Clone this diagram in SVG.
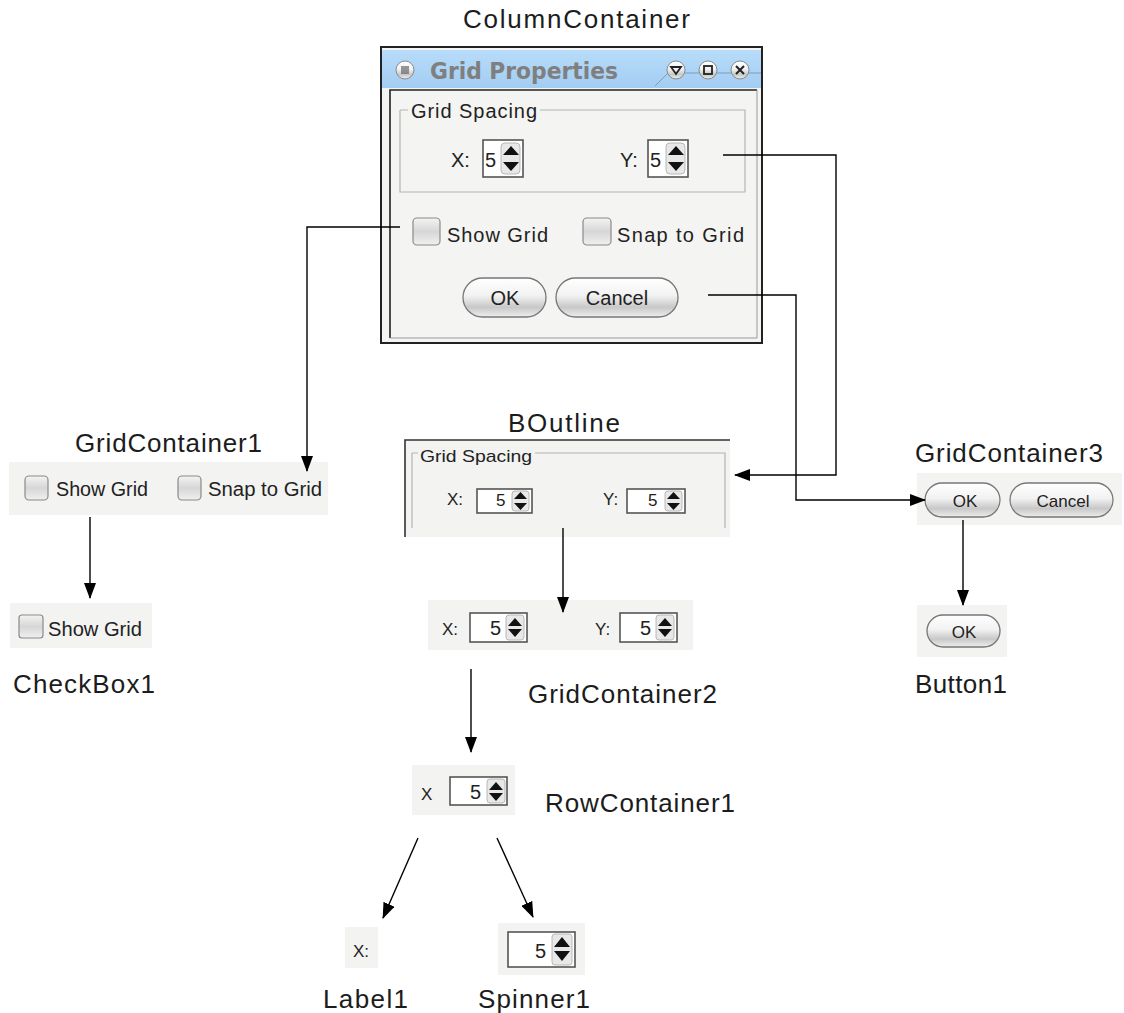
<svg xmlns="http://www.w3.org/2000/svg" width="1124" height="1013" viewBox="0 0 1124 1013">
<defs>
<linearGradient id="btnG" x1="0" y1="0" x2="0" y2="1">
<stop offset="0" stop-color="#ffffff"/><stop offset="0.45" stop-color="#f2f2f2"/><stop offset="0.75" stop-color="#c8c8c8"/><stop offset="1" stop-color="#eeeeee"/>
</linearGradient>
<linearGradient id="chkG" x1="0" y1="0" x2="0" y2="1">
<stop offset="0" stop-color="#f4f4f4"/><stop offset="0.5" stop-color="#d6d6d6"/><stop offset="1" stop-color="#f0f0f0"/>
</linearGradient>
<linearGradient id="titleG" x1="0" y1="0" x2="0" y2="1">
<stop offset="0" stop-color="#b8dcfa"/><stop offset="1" stop-color="#a2cdf2"/>
</linearGradient>
<marker id="ah" markerWidth="16" markerHeight="12" refX="15" refY="6" orient="auto" markerUnits="userSpaceOnUse">
<path d="M0,0 L16,6 L0,12 Z" fill="#000"/>
</marker>
</defs>
<style>
.lbl{font-family:"Liberation Sans",Arial,sans-serif;font-size:26px;fill:#1c1c1c}
.w{font-family:"Liberation Sans",Arial,sans-serif;font-size:20px;fill:#222}
.ws{font-family:"Liberation Sans",Arial,sans-serif;font-size:17px;fill:#222}
.bg{fill:#f3f3f1}
.chk{fill:url(#chkG);stroke:#8a8a8a;stroke-width:1.2}
.btn{fill:url(#btnG);stroke:#777;stroke-width:1.3}
.spin{fill:#fff;stroke:#555;stroke-width:1.6}
.sb{fill:#e8e8e8;stroke:#aaa;stroke-width:0.8}
.tri{fill:#111}
.con{fill:none;stroke:#000;stroke-width:1.4}
.grp{fill:none;stroke:#b4b4b4;stroke-width:1.2}
</style>

<!-- ColumnContainer -->
<g id="ColumnContainer">
<text class="lbl" x="463" y="28" textLength="227" lengthAdjust="spacing">ColumnContainer</text>
<rect x="381" y="47" width="381" height="296" fill="#f4f4f2" stroke="#222" stroke-width="2"/>
<rect x="382" y="50" width="379" height="38" fill="url(#titleG)"/>
<circle cx="405" cy="70" r="9" fill="url(#btnG)" stroke="#8a8a8a" stroke-width="1"/>
<rect x="401" y="66" width="8" height="8" fill="#555" opacity="0.6"/>
<text x="430" y="79" font-family="'DejaVu Sans','Liberation Sans',sans-serif" font-weight="bold" font-size="23" fill="#7f7f7f" textLength="188" lengthAdjust="spacingAndGlyphs">Grid Properties</text>
<path d="M655,86 L668,73 L761,73" fill="none" stroke="#7d9bb8" stroke-width="1"/>
<circle cx="676" cy="70" r="9" fill="url(#btnG)" stroke="#8a8a8a"/>
<path d="M671,67 L681,67 L676,74 Z" fill="none" stroke="#222" stroke-width="1.8"/>
<circle cx="708" cy="70" r="9" fill="url(#btnG)" stroke="#8a8a8a"/>
<rect x="704" y="66" width="8" height="8" fill="none" stroke="#222" stroke-width="1.8"/>
<circle cx="740" cy="70" r="9" fill="url(#btnG)" stroke="#8a8a8a"/>
<path d="M736,66 L744,74 M744,66 L736,74" stroke="#222" stroke-width="2"/>
<path d="M390,338 L390,90 L757,90" fill="none" stroke="#222" stroke-width="1.6"/>
<path d="M390,338 L757,338 L757,90" fill="none" stroke="#999" stroke-width="1"/>
<path d="M400,110 L408,110 M540,110 L745,110 L745,192 L400,192 L400,110" class="grp"/>
<text class="w" x="411" y="118" textLength="126" lengthAdjust="spacing">Grid Spacing</text>
<text class="w" x="451" y="167">X:</text>
<rect class="spin" x="483" y="140" width="40" height="37"/>
<text class="w" x="485" y="167">5</text>
<rect class="sb" x="501" y="143" width="19" height="31" rx="4"/>
<path class="tri" d="M503,155 L511,146 L519,155 Z M503,162 L519,162 L511,171 Z"/>
<text class="w" x="620" y="167">Y:</text>
<rect class="spin" x="648" y="140" width="40" height="37"/>
<text class="w" x="650" y="167">5</text>
<rect class="sb" x="666" y="143" width="19" height="31" rx="4"/>
<path class="tri" d="M668,155 L676,146 L684,155 Z M668,162 L684,162 L676,171 Z"/>
<rect class="chk" x="413" y="218" width="27" height="27" rx="4"/>
<text class="w" x="447" y="242" textLength="101" lengthAdjust="spacing">Show Grid</text>
<rect class="chk" x="583" y="218" width="28" height="27" rx="4"/>
<text class="w" x="617" y="242" textLength="127" lengthAdjust="spacing">Snap to Grid</text>
<rect class="btn" x="463" y="278" width="83" height="39" rx="19.5"/>
<text class="w" x="505" y="305" text-anchor="middle">OK</text>
<rect class="btn" x="556" y="278" width="122" height="39" rx="19.5"/>
<text class="w" x="617" y="305" text-anchor="middle">Cancel</text>
</g>

<!-- GridContainer1 -->
<g id="GridContainer1">
<text class="lbl" x="75" y="452" textLength="187" lengthAdjust="spacing">GridContainer1</text>
<rect class="bg" x="9" y="462" width="319" height="53"/>
<rect class="chk" x="25" y="476" width="23" height="24" rx="4"/>
<text class="w" x="56" y="496" textLength="92" lengthAdjust="spacingAndGlyphs">Show Grid</text>
<rect class="chk" x="178" y="476" width="23" height="24" rx="4"/>
<text class="w" x="208" y="496" textLength="114" lengthAdjust="spacingAndGlyphs">Snap to Grid</text>
</g>

<!-- CheckBox1 -->
<g id="CheckBox1">
<rect class="bg" x="10" y="603" width="142" height="45"/>
<rect class="chk" x="19" y="615" width="24" height="23" rx="3"/>
<text class="w" x="48" y="636" textLength="94" lengthAdjust="spacingAndGlyphs">Show Grid</text>
<text class="lbl" x="13" y="693" textLength="142" lengthAdjust="spacing">CheckBox1</text>
</g>

<!-- BOutline -->
<g id="BOutline">
<text class="lbl" x="508" y="432" textLength="112" lengthAdjust="spacing">BOutline</text>
<rect class="bg" x="405" y="440" width="325" height="97"/>
<path d="M405,537 L405,440 L730,440" fill="none" stroke="#333" stroke-width="1.6"/>
<path d="M412,453 L418,453 M535,453 L725,453 L725,528 M412,528 L412,453" class="grp"/>
<text class="ws" x="420" y="462" textLength="112" lengthAdjust="spacingAndGlyphs">Grid Spacing</text>
<text class="ws" x="447" y="505">X:</text>
<rect class="spin" x="477" y="489" width="55" height="24"/>
<text class="ws" x="496" y="506">5</text>
<rect class="sb" x="512" y="491" width="17" height="20" rx="3"/>
<path class="tri" d="M514,499 L520.5,492 L527,499 Z M514,503 L527,503 L520.5,510 Z"/>
<text class="ws" x="603" y="505">Y:</text>
<rect class="spin" x="627" y="489" width="58" height="24"/>
<text class="ws" x="648" y="506">5</text>
<rect class="sb" x="665" y="491" width="17" height="20" rx="3"/>
<path class="tri" d="M667,499 L673.5,492 L680,499 Z M667,503 L680,503 L673.5,510 Z"/>
</g>

<!-- GridContainer2 -->
<g id="GridContainer2">
<rect class="bg" x="428" y="600" width="265" height="50"/>
<text class="ws" x="442" y="635">X:</text>
<rect class="spin" x="470" y="613" width="57" height="29"/>
<text class="w" x="490" y="635">5</text>
<rect class="sb" x="506" y="615" width="18" height="25" rx="3"/>
<path class="tri" d="M508,626 L515,618 L522,626 Z M508,629 L522,629 L515,637 Z"/>
<text class="ws" x="595" y="635">Y:</text>
<rect class="spin" x="620" y="613" width="57" height="29"/>
<text class="w" x="640" y="635">5</text>
<rect class="sb" x="656" y="615" width="18" height="25" rx="3"/>
<path class="tri" d="M658,626 L665,618 L672,626 Z M658,629 L672,629 L665,637 Z"/>
<text class="lbl" x="528" y="703" textLength="189" lengthAdjust="spacing">GridContainer2</text>
</g>

<!-- GridContainer3 -->
<g id="GridContainer3">
<text class="lbl" x="915" y="462" textLength="188" lengthAdjust="spacing">GridContainer3</text>
<rect class="bg" x="917" y="473" width="205" height="52"/>
<rect class="btn" x="925" y="483" width="75" height="34" rx="17"/>
<text class="ws" x="965" y="507" text-anchor="middle">OK</text>
<rect class="btn" x="1010" y="483" width="103" height="34" rx="17"/>
<text class="ws" x="1063" y="507" text-anchor="middle">Cancel</text>
</g>

<!-- Button1 -->
<g id="Button1">
<rect class="bg" x="917" y="605" width="90" height="52"/>
<rect class="btn" x="927" y="615" width="73" height="32" rx="16"/>
<text class="ws" x="964" y="638" text-anchor="middle">OK</text>
<text class="lbl" x="915" y="693" textLength="92" lengthAdjust="spacing">Button1</text>
</g>

<!-- RowContainer1 -->
<g id="RowContainer1">
<rect class="bg" x="412" y="765" width="103" height="50"/>
<text class="ws" x="421" y="800">X</text>
<rect class="spin" x="450" y="777" width="57" height="28"/>
<text class="w" x="470" y="799">5</text>
<rect class="sb" x="487" y="779" width="18" height="24" rx="3"/>
<path class="tri" d="M489,790 L496,782 L503,790 Z M489,793 L503,793 L496,801 Z"/>
<text class="lbl" x="545" y="812" textLength="190" lengthAdjust="spacing">RowContainer1</text>
</g>

<!-- Label1 -->
<g id="Label1">
<rect class="bg" x="345" y="927" width="33" height="41"/>
<text class="ws" x="353" y="957">X:</text>
<text class="lbl" x="323" y="1008" textLength="85" lengthAdjust="spacing">Label1</text>
</g>

<!-- Spinner1 -->
<g id="Spinner1">
<rect class="bg" x="498" y="923" width="87" height="52"/>
<rect class="spin" x="508" y="932" width="67" height="35"/>
<text class="w" x="535" y="958">5</text>
<rect class="sb" x="552" y="934" width="20" height="31" rx="3"/>
<path class="tri" d="M554,947 L562,937 L570,947 Z M554,951 L570,951 L562,961 Z"/>
<text class="lbl" x="478" y="1008" textLength="112" lengthAdjust="spacing">Spinner1</text>
</g>

<!-- Connectors -->
<g id="connectors">
<path class="con" d="M723,155 L836,155 L836,475 L735,475" marker-end="url(#ah)"/>
<path class="con" d="M400,227 L307,227 L307,471" marker-end="url(#ah)"/>
<path class="con" d="M708,295 L796,295 L796,500 L925,500" marker-end="url(#ah)"/>
<path class="con" d="M90,517 L90,598" marker-end="url(#ah)"/>
<path class="con" d="M563,528 L563,612" marker-end="url(#ah)"/>
<path class="con" d="M471,669 L471,752" marker-end="url(#ah)"/>
<path class="con" d="M963,520 L963,605" marker-end="url(#ah)"/>
<path class="con" d="M418,838 L383,918" marker-end="url(#ah)"/>
<path class="con" d="M497,838 L533,917" marker-end="url(#ah)"/>
</g>
</svg>
